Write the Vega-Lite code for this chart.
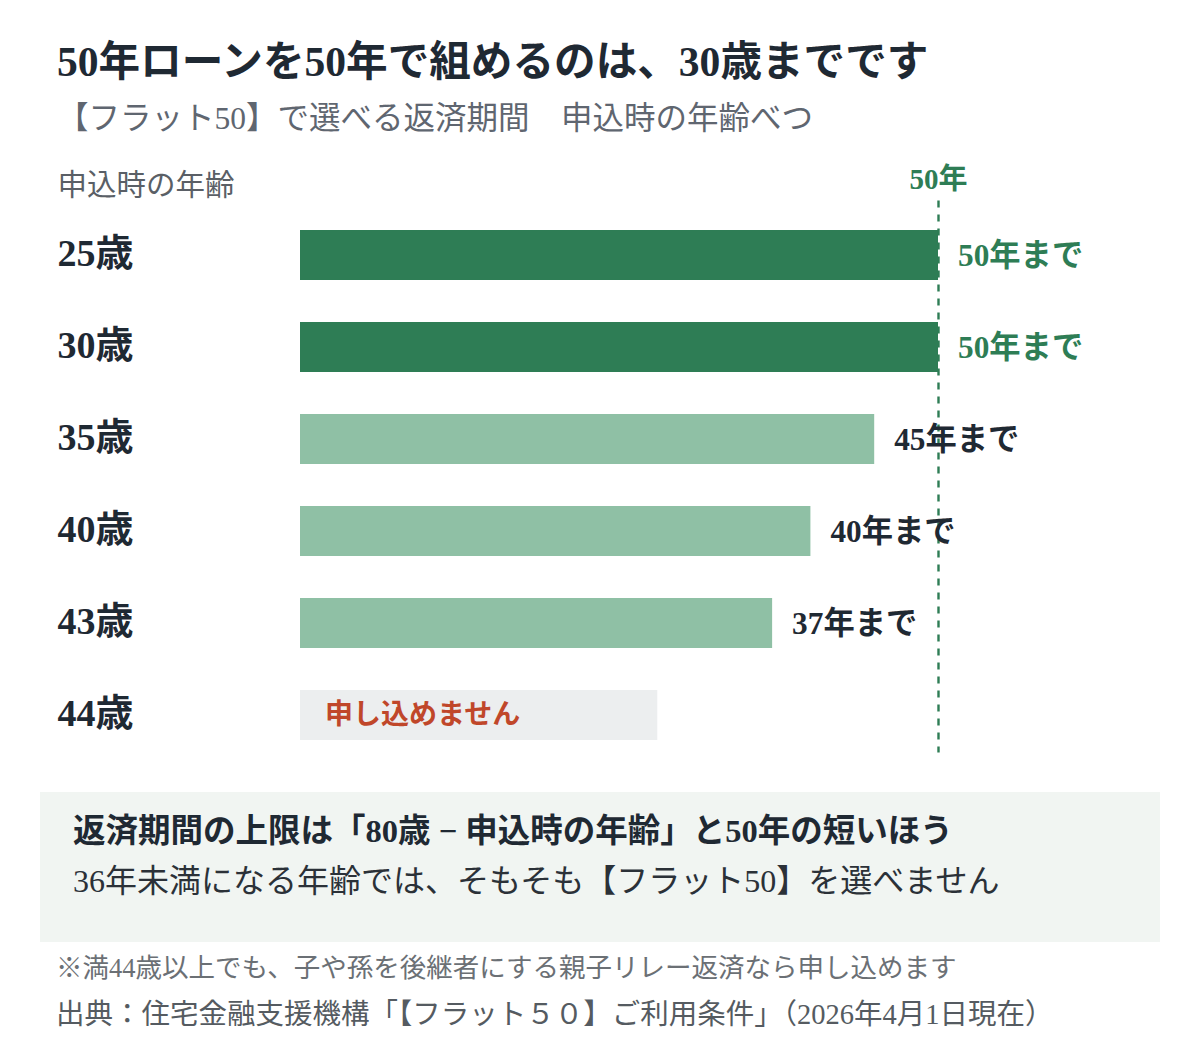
{
  "$schema": "https://vega.github.io/schema/vega-lite/v6.json",
  "background": "white",
  "padding": {"left": 40, "top": 42, "right": 40, "bottom": 10},
  "autosize": {"type": "pad"},
  "title": {
    "text": "※満44歳以上でも、子や孫を後継者にする親子リレー返済なら申し込めます",
    "subtitle": "出典：住宅金融支援機構「【フラット５０】ご利用条件」（2026年4月1日現在）",
    "orient": "bottom", "anchor": "start", "frame": "bounds", "dx": 16, "offset": 14,
    "font": "Liberation Serif, Noto Sans CJK JP", "fontSize": 26.5, "fontWeight": "normal", "color": "#6b7075",
    "subtitleFont": "Liberation Serif, Noto Sans CJK JP", "subtitleFontSize": 28.5, "subtitleColor": "#555b61",
    "subtitlePadding": 18
  },
  "config": {
    "view": {"stroke": null},
    "font": "Liberation Serif, Noto Sans CJK JP"
  },
  "spacing": 40,
  "vconcat": [
    {
      "width": 1120, "height": 552,
      "title": {
        "text": "50年ローンを50年で組めるのは、30歳までです",
        "subtitle": "【フラット50】で選べる返済期間　申込時の年齢べつ",
        "anchor": "start", "frame": "group", "dx": 17, "offset": 30,
        "font": "Liberation Serif, Noto Sans CJK JP", "fontSize": 41.6, "fontWeight": "bold", "color": "#1f2933",
        "subtitleFont": "Liberation Serif, Noto Sans CJK JP", "subtitleFontSize": 31.5, "subtitleColor": "#5f6670",
        "subtitlePadding": 19
      },
      "data": {"values": [
        {"age": "25歳", "bar": 50, "label": "50年まで", "kind": "max"},
        {"age": "30歳", "bar": 50, "label": "50年まで", "kind": "max"},
        {"age": "35歳", "bar": 45, "label": "45年まで", "kind": "mid"},
        {"age": "40歳", "bar": 40, "label": "40年まで", "kind": "mid"},
        {"age": "43歳", "bar": 37, "label": "37年まで", "kind": "mid"},
        {"age": "44歳", "bar": 28, "label": "申し込めません", "kind": "none"}
      ]},
      "encoding": {
        "y": {
          "field": "age", "type": "nominal", "sort": null,
          "scale": {"paddingInner": 0.4565, "paddingOuter": 0.2283, "align": 0.714},
          "axis": {
            "orient": "left", "title": "申込時の年齢", "titleAngle": 0, "titleAlign": "left",
            "titleBaseline": "middle", "titleX": 17, "titleY": -15,
            "titleFont": "Liberation Serif, Noto Sans CJK JP", "titleFontSize": 29.5, "titleFontWeight": "normal", "titleColor": "#5a5f66",
            "labelAlign": "left", "labelPadding": -17, "ticks": false, "tickSize": 0, "domain": false, "grid": false,
            "labelFont": "Liberation Serif, Noto Sans CJK JP", "labelFontSize": 38, "labelFontWeight": "bold",
            "labelColor": "#1f2933", "labelBaseline": "middle"
          }
        }
      },
      "layer": [
        {
          "mark": {"type": "bar"},
          "encoding": {
            "x": {
              "field": "bar", "type": "quantitative",
              "scale": {"domain": [0, 50], "range": [260, 898], "nice": false},
              "axis": {
                "orient": "top", "values": [50], "labelExpr": "'50年'", "title": null,
                "grid": true, "gridDash": [7, 7], "gridColor": "#2e7d55", "gridWidth": 2.4,
                "domain": false, "ticks": false, "labelPadding": 6, "labelFlush": false, "labelAlign": "center",
                "labelFont": "Liberation Serif, Noto Sans CJK JP", "labelFontSize": 29, "labelFontWeight": "bold",
                "labelColor": "#2e7d55"
              }
            },
            "color": {
              "field": "kind", "type": "nominal", "legend": null,
              "scale": {"domain": ["max", "mid", "none"], "range": ["#2e7d55", "#8fc0a5", "#eceeef"]}
            }
          }
        },
        {
          "transform": [{"filter": "datum.kind != 'none'"}],
          "mark": {"type": "text", "align": "left", "baseline": "middle", "dx": 20, "dy": 2,
                   "fontSize": 31.3, "fontWeight": "bold", "font": "Liberation Serif, Noto Sans CJK JP"},
          "encoding": {
            "x": {"field": "bar", "type": "quantitative"},
            "text": {"field": "label"},
            "color": {"condition": {"test": "datum.kind == 'max'", "value": "#2e7d55"}, "value": "#1f2933"}
          }
        },
        {
          "transform": [{"filter": "datum.kind == 'none'"}],
          "mark": {"type": "text", "align": "left", "baseline": "middle", "dx": 25, "dy": 1,
                   "fontSize": 28, "fontWeight": "bold", "font": "Noto Sans CJK JP", "color": "#c0472a"},
          "encoding": {
            "x": {"datum": 0, "type": "quantitative"},
            "text": {"field": "label"}
          }
        }
      ]
    },
    {
      "width": 1120, "height": 150,
      "view": {"fill": "#f1f5f2", "stroke": null},
      "data": {"values": [
        {"line": 1, "text": "返済期間の上限は「80歳 − 申込時の年齢」と50年の短いほう", "style": "head"},
        {"line": 2, "text": "36年未満になる年齢では、そもそも【フラット50】を選べません", "style": "body"}
      ]},
      "encoding": {
        "y": {"field": "line", "type": "ordinal", "axis": null, "scale": {"padding": 1, "align": 0.4}},
        "x": {"datum": 0, "type": "quantitative", "axis": null, "scale": {"domain": [0, 1]}},
        "text": {"field": "text"}
      },
      "layer": [
        {
          "transform": [{"filter": "datum.style == 'head'"}],
          "mark": {"type": "text", "align": "left", "baseline": "middle", "dx": 33,
                   "fontSize": 32.5, "fontWeight": "bold", "font": "Liberation Serif, Noto Sans CJK JP", "color": "#1f2933"}
        },
        {
          "transform": [{"filter": "datum.style == 'body'"}],
          "mark": {"type": "text", "align": "left", "baseline": "middle", "dx": 33,
                   "fontSize": 32, "fontWeight": "normal", "font": "Liberation Serif, Noto Sans CJK JP", "color": "#2b3138"}
        }
      ]
    }
  ]
}
